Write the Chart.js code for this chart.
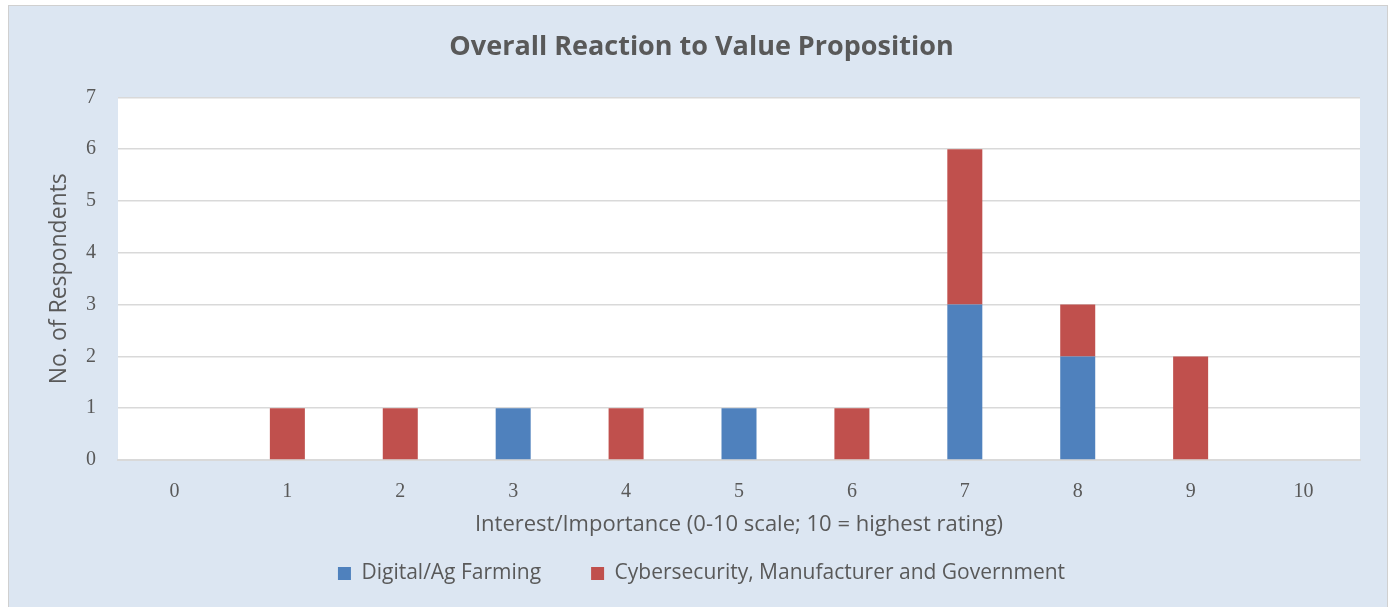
<!DOCTYPE html>
<html>
<head>
<meta charset="utf-8">
<script src="https://cdn.jsdelivr.net/npm/chart.js@4.4.0/dist/chart.umd.min.js"></script>
<style>
  html, body { margin: 0; padding: 0; background: #ffffff; }
  #frame {
    position: absolute; left: 8px; top: 5px; width: 1378px; height: 610px;
    background: #dce6f2; border: 1px solid #d0d0d0;
  }
  #wrap { position: absolute; left: 0; top: 0; width: 1394px; height: 607px; }
</style>
</head>
<body>
<div id="frame"></div>
<div id="wrap"><canvas id="chart"></canvas></div>
<script>
const ratings = ['0', '1', '2', '3', '4', '5', '6', '7', '8', '9', '10'];
const digitalAg = [0, 0, 0, 1, 0, 1, 0, 3, 2, 0, 0];
const cyberMfgGov = [0, 1, 1, 0, 1, 0, 1, 3, 1, 2, 0];
const yTicks = [0, 1, 2, 3, 4, 5, 6, 7];

const textGray = '#595959';
const sans = '"Open Sans", Lato, sans-serif';
const serif = '"Liberation Serif", "DejaVu Serif", serif';

// white plot area on the blue background
const plotFill = {
  id: 'plotFill',
  beforeDraw(chart) {
    const { ctx, chartArea: a } = chart;
    ctx.save();
    ctx.fillStyle = '#ffffff';
    ctx.fillRect(a.left, a.top, a.right - a.left, a.bottom - a.top);
    ctx.restore();
  }
};

new Chart(document.getElementById('chart'), {
  type: 'bar',
  data: {
    labels: ratings,
    datasets: [
      { label: 'Digital/Ag Farming', data: digitalAg, backgroundColor: '#4f81bd' },
      { label: 'Cybersecurity, Manufacturer and Government', data: cyberMfgGov, backgroundColor: '#c0504d' }
    ]
  },
  options: {
    responsive: true,
    maintainAspectRatio: false,
    animation: false,
    categoryPercentage: 1,
    barPercentage: 0.31,
    layout: { padding: { left: 9, right: 0, top: 0, bottom: 13 } },
    plugins: {
      title: {
        display: true,
        text: 'Overall Reaction to Value Proposition',
        color: textGray,
        font: { family: sans, size: 27, weight: 'bold' },
        padding: { top: 31, bottom: 34 }
      },
      legend: {
        position: 'bottom',
        labels: {
          color: textGray,
          font: { family: sans, size: 21 },
          boxWidth: 13,
          boxHeight: 13,
          padding: 50
        }
      },
      tooltip: { enabled: false }
    },
    scales: {
      x: {
        stacked: true,
        grid: { display: false, drawTicks: false },
        border: { display: true, color: '#d9d9d9', width: 2 },
        ticks: { color: textGray, font: { family: serif, size: 20 }, padding: 20 },
        title: {
          display: true,
          text: 'Interest/Importance (0-10 scale; 10 = highest rating)',
          color: textGray,
          font: { family: sans, size: 22 },
          padding: { top: 0, bottom: -25 }
        },
        afterFit(scale) { scale.height = 53; }
      },
      y: {
        stacked: true,
        min: yTicks[0],
        max: yTicks[yTicks.length - 1],
        afterBuildTicks(scale) { scale.ticks = yTicks.map(v => ({ value: v })); },
        grid: { color: '#d9d9d9', lineWidth: 1.5, drawTicks: false },
        border: { display: false },
        ticks: { color: textGray, font: { family: serif, size: 20 }, padding: 22 },
        title: {
          display: true,
          text: 'No. of Respondents',
          color: textGray,
          font: { family: sans, size: 23 },
          padding: { top: 37, bottom: 0 }
        },
        afterFit(scale) { scale.width = 109; }
      },
      // empty right-hand margin so the plot ends where the reference does
      spacer: {
        type: 'linear',
        position: 'right',
        display: true,
        grid: { display: false, drawTicks: false },
        border: { display: false },
        ticks: { display: false },
        afterFit(scale) { scale.width = 34; }
      }
    }
  },
  plugins: [plotFill]
});
</script>
</body>
</html>
